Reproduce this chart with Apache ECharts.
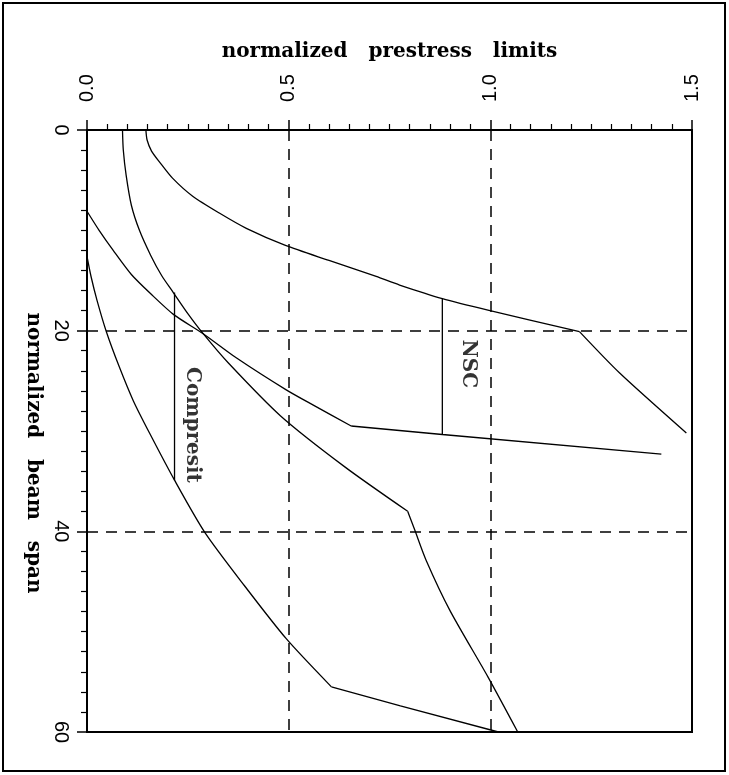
<!DOCTYPE html>
<html>
<head>
<meta charset="utf-8">
<script src="https://cdn.jsdelivr.net/npm/echarts@6/dist/echarts.min.js"></script>
<style>
  html, body { margin: 0; padding: 0; background: #fff; }
  #chart { width: 729px; height: 775px; }
</style>
</head>
<body>
<div id="chart"></div>
<script>
// axis ticks
const limitTicks = [0.0, 0.5, 1.0, 1.5];   // normalized prestress limits (top axis)
const spanTicks = [0, 20, 40, 60];         // normalized beam span (left axis, downward)

// curves as [prestress limit, beam span]; each curve is a smooth part plus a tail after its kink
const curveA = [[0.146, 0], [0.149, 1.0], [0.16, 2.1], [0.18, 3.2], [0.212, 4.8], [0.262, 6.6], [0.329, 8.3],
  [0.395, 9.8], [0.492, 11.5], [0.6, 13.0], [0.717, 14.6], [0.775, 15.45], [0.881, 16.8], [0.994, 17.95], [1.221, 20.1]];
const tailA = [[1.221, 20.1], [1.32, 24.2], [1.486, 30.2]];

const curveB = [[0.088, 0], [0.09, 2.0], [0.097, 4.5], [0.11, 7.5], [0.13, 10.0], [0.158, 12.5], [0.185, 14.5],
  [0.214, 16.2], [0.25, 18.3], [0.288, 20.3], [0.35, 23.2], [0.48, 28.5], [0.64, 33.6], [0.795, 38.0]];
const tailB = [[0.795, 38.0], [0.812, 39.8], [0.841, 42.9], [0.9, 47.9], [0.994, 54.5], [1.068, 60]];

const curveC = [[0, 8.1], [0.03, 10.0], [0.065, 12.0], [0.11, 14.4], [0.16, 16.4], [0.215, 18.4], [0.288, 20.3],
  [0.37, 22.7], [0.494, 25.9], [0.56, 27.4], [0.655, 29.5]];
const tailC = [[0.655, 29.5], [0.881, 30.35], [1.424, 32.3]];

const curveD = [[0, 12.6], [0.01, 14.6], [0.025, 17.0], [0.048, 20.1], [0.08, 23.6], [0.115, 27.0], [0.155, 30.2],
  [0.217, 34.9], [0.292, 40.1], [0.39, 45.4], [0.494, 50.7], [0.606, 55.5]];
const tailD = [[0.606, 55.5], [0.777, 57.4], [1.02, 60]];

// vertical range bars and their labels
const nscBar = [[0.881, 16.8], [0.881, 30.35]];
const compresitBar = [[0.217, 16.2], [0.217, 34.9]];
const barLabels = [
  { name: "NSC", value: [0.946, 23.3] },
  { name: "Compresit", value: [0.262, 29.4] }
];

const serif = "DejaVu Serif";
const sans = "Liberation Sans";

const chart = echarts.init(document.getElementById("chart"));

const curve = (data) => ({
  type: "line", data, symbol: "none", smooth: 0.25,
  lineStyle: { color: "#000", width: 1.3 }, silent: true
});
const straight = (data) => ({
  type: "line", data, symbol: "none", smooth: false,
  lineStyle: { color: "#000", width: 1.3 }, silent: true
});

chart.setOption({
  animation: false,
  backgroundColor: "#fff",
  grid: { left: 87, right: 37, top: 130, bottom: 43, show: true, borderColor: "#000", borderWidth: 2 },
  xAxis: {
    type: "value", position: "top",
    min: limitTicks[0], max: limitTicks[limitTicks.length - 1], interval: 0.5,
    name: "normalized   prestress   limits", nameLocation: "middle", nameGap: 68,
    nameTextStyle: { fontFamily: serif, fontWeight: "bold", fontSize: 20, color: "#000" },
    axisLine: { show: true, onZero: false, lineStyle: { color: "#000", width: 2 } },
    axisTick: { show: true, length: 10, lineStyle: { color: "#000", width: 1.5 } },
    minorTick: { show: true, splitNumber: 10, length: 6, lineStyle: { color: "#000", width: 1.2 } },
    axisLabel: {
      rotate: -90, margin: 28, fontFamily: sans, fontSize: 20, color: "#000",
      showMinLabel: true, showMaxLabel: true,
      formatter: (v) => limitTicks.includes(v) ? v.toFixed(1) : ""
    },
    splitLine: { show: true, lineStyle: { color: "#000", width: 1.5, type: [11, 8] } }
  },
  yAxis: {
    type: "value", inverse: true,
    min: spanTicks[0], max: spanTicks[spanTicks.length - 1], interval: 20,
    name: "normalized   beam   span", nameLocation: "middle", nameGap: 38, nameRotate: -90,
    nameTextStyle: { fontFamily: serif, fontWeight: "bold", fontSize: 20, color: "#000", padding: [0, 0, 0, 44] },
    axisLine: { show: true, onZero: false, lineStyle: { color: "#000", width: 2 } },
    axisTick: { show: true, length: 10, lineStyle: { color: "#000", width: 1.5 } },
    minorTick: { show: true, splitNumber: 10, length: 6, lineStyle: { color: "#000", width: 1.2 } },
    axisLabel: {
      rotate: -90, margin: 16, fontFamily: sans, fontSize: 20, color: "#000",
      showMinLabel: true, showMaxLabel: true,
      formatter: (v) => spanTicks.includes(v) ? String(v) : ""
    },
    splitLine: { show: true, lineStyle: { color: "#000", width: 1.5, type: [11, 8] } }
  },
  graphic: [{
    type: "rect", silent: true, z: -1,
    shape: { x: 3, y: 3, width: 722, height: 768 },
    style: { fill: "none", stroke: "#000", lineWidth: 2 }
  }],
  series: [
    curve(curveA), curve(tailA),
    curve(curveB), curve(tailB),
    curve(curveC), straight(tailC),
    curve(curveD), straight(tailD),
    straight(nscBar), straight(compresitBar),
    {
      type: "scatter", data: barLabels, symbolSize: 0, silent: true,
      label: {
        show: true, position: "inside", rotate: -90,
        formatter: (p) => p.name,
        fontFamily: serif, fontWeight: "bold", fontSize: 20, color: "#000"
      }
    }
  ]
});
</script>
</body>
</html>
